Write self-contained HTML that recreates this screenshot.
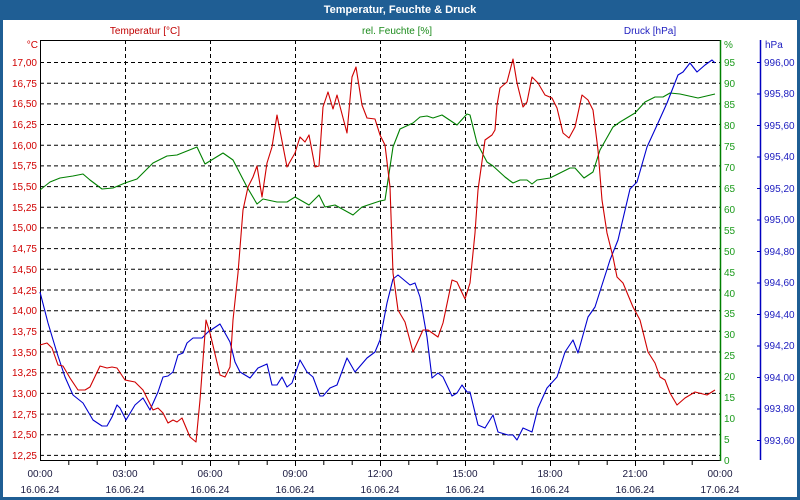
<!DOCTYPE html>
<html><head><meta charset="utf-8"><style>
html,body{margin:0;padding:0;background:#fff;}
svg{display:block;font-family:"Liberation Sans",Tahoma,sans-serif;}
</style></head><body>
<svg width="800" height="500" xmlns="http://www.w3.org/2000/svg">
<rect x="0" y="0" width="800" height="500" fill="#1f5e94"/>
<rect x="3" y="20" width="794" height="477" fill="#fff"/>
<text x="400" y="13" fill="#fff" font-size="11" font-weight="bold" text-anchor="middle">Temperatur, Feuchte &amp; Druck</text>
<g font-size="10" text-anchor="middle">
<text x="145" y="34" fill="#c00000">Temperatur [°C]</text>
<text x="397" y="34" fill="#1a8a1a">rel. Feuchte [%]</text>
<text x="650" y="34" fill="#2020c0">Druck [hPa]</text>
</g>
<g stroke="#000" stroke-dasharray="4,3" stroke-width="1" fill="none">
<path d="M40 62.5H720M40 83.2H720M40 103.9H720M40 124.5H720M40 145.2H720M40 165.9H720M40 186.6H720M40 207.3H720M40 227.9H720M40 248.6H720M40 269.3H720M40 290H720M40 310.7H720M40 331.3H720M40 352H720M40 372.7H720M40 393.4H720M40 414.1H720M40 434.7H720M40 455.4H720"/>
<path d="M125.5 40V460M210.5 40V460M295.5 40V460M380.5 40V460M465.5 40V460M550.5 40V460M635.5 40V460"/>
</g>
<g stroke="#000" stroke-width="1" fill="none">
<path d="M40.5 40V460.5H720M40 40.5H720"/>
<path d="M68.8 460V465M97.2 460V465M125.5 460V466M153.8 460V465M182.2 460V465M210.5 460V466M238.8 460V465M267.2 460V465M295.5 460V466M323.8 460V465M352.2 460V465M380.5 460V466M408.8 460V465M437.2 460V465M465.5 460V466M493.8 460V465M522.2 460V465M550.5 460V466M578.8 460V465M607.2 460V465M635.5 460V466M663.8 460V465M692.2 460V465"/>
</g>
<path d="M720.5 40V461" stroke="#008000" stroke-width="1.5" fill="none"/>
<path d="M760.5 40V460" stroke="#0000c0" stroke-width="1.5" fill="none"/>
<g stroke="#0000c0" fill="none"><path d="M757 62.5h4M757 94h4M757 125.5h4M757 157h4M757 188.5h4M757 220h4M757 251.5h4M757 283h4M757 314.5h4M757 346h4M757 377.5h4M757 409h4M757 440.5h4"/></g>
<g font-size="10" fill="#d00000" text-anchor="end">
<text x="38" y="48">°C</text>
<text x="37" y="66">17,00</text><text x="37" y="87">16,75</text><text x="37" y="107">16,50</text><text x="37" y="128">16,25</text><text x="37" y="149">16,00</text><text x="37" y="169">15,75</text><text x="37" y="190">15,50</text><text x="37" y="211">15,25</text><text x="37" y="231">15,00</text><text x="37" y="252">14,75</text><text x="37" y="273">14,50</text><text x="37" y="294">14,25</text><text x="37" y="314">14,00</text><text x="37" y="335">13,75</text><text x="37" y="356">13,50</text><text x="37" y="376">13,25</text><text x="37" y="397">13,00</text><text x="37" y="418">12,75</text><text x="37" y="438">12,50</text><text x="37" y="459">12,25</text>
</g>
<g font-size="10" fill="#1a9a1a">
<text x="724" y="48">%</text>
<text x="724" y="66">95</text><text x="724" y="87">90</text><text x="724" y="108">85</text><text x="724" y="129">80</text><text x="724" y="150">75</text><text x="724" y="171">70</text><text x="724" y="192">65</text><text x="724" y="213">60</text><text x="724" y="234">55</text><text x="724" y="255">50</text><text x="724" y="276">45</text><text x="724" y="297">40</text><text x="724" y="317">35</text><text x="724" y="338">30</text><text x="724" y="359">25</text><text x="724" y="380">20</text><text x="724" y="401">15</text><text x="724" y="422">10</text><text x="724" y="443">5</text><text x="724" y="464">0</text>
</g>
<g font-size="10" fill="#2020c0">
<text x="765" y="48">hPa</text>
<text x="764" y="66">996,00</text><text x="764" y="97">995,80</text><text x="764" y="129">995,60</text><text x="764" y="160">995,40</text><text x="764" y="192">995,20</text><text x="764" y="223">995,00</text><text x="764" y="255">994,80</text><text x="764" y="286">994,60</text><text x="764" y="318">994,40</text><text x="764" y="349">994,20</text><text x="764" y="381">994,00</text><text x="764" y="412">993,80</text><text x="764" y="444">993,60</text>
</g>
<g font-size="10" fill="#1a1a40" text-anchor="middle">
<text x="40" y="477">00:00</text><text x="40" y="493">16.06.24</text>
<text x="125" y="477">03:00</text><text x="125" y="493">16.06.24</text>
<text x="210" y="477">06:00</text><text x="210" y="493">16.06.24</text>
<text x="295" y="477">09:00</text><text x="295" y="493">16.06.24</text>
<text x="380" y="477">12:00</text><text x="380" y="493">16.06.24</text>
<text x="465" y="477">15:00</text><text x="465" y="493">16.06.24</text>
<text x="550" y="477">18:00</text><text x="550" y="493">16.06.24</text>
<text x="635" y="477">21:00</text><text x="635" y="493">16.06.24</text>
<text x="720" y="477">00:00</text><text x="720" y="493">17.06.24</text>
</g>
<g fill="none" stroke-width="1.1" stroke-linejoin="round">
<polyline stroke="#008000" points="40,190 50,182 60,178 73,176 83,174 90,180 102,189 113,188 125,183 137,179 153,163 167,156 177,155 197,147 205,164 223,153 233,160 247,187 257,204 263,199 277,202 287,202 295,197 309,205 319,195 325,207 335,205 353,215 362,207 380,201 385,200 393,147 400,129 413,123 420,117 427,116 433,118 442,115 457,125 467,114 470,115 477,143 487,162 493,166 505,177 513,183 520,180 527,180 532,184 537,180 550,178 570,168 575,168 584,178 593,172 600,150 613,127 620,122 635,113 645,102 655,97 663,97 670,93 680,94 698,98 715,94"/>
<polyline stroke="#0000d0" points="40,292 48,323 57,353 65,377 73,395 83,403 93,420 102,426 107,426 112,417 117,405 120,408 126,420 135,405 143,398 150,410 158,392 163,377 168,376 173,372 178,355 183,353 187,343 193,338 202,338 208,332 220,324 230,342 235,362 240,372 250,378 258,368 267,364 272,385 277,385 282,377 287,387 292,383 300,360 307,372 313,377 320,396 323,396 330,388 337,385 347,358 355,372 367,358 375,352 380,340 387,303 393,279 398,275 410,285 415,283 420,297 427,337 432,378 438,373 443,377 452,396 457,393 462,385 467,392 470,392 478,425 485,428 493,415 498,432 508,435 513,435 517,440 523,428 532,432 538,408 547,388 557,377 565,352 573,340 578,353 588,317 595,307 602,285 610,260 618,240 630,189 637,182 647,147 658,123 667,103 678,75 683,72 690,63 697,72 705,65 712,60 715,63"/>
<polyline stroke="#d00000" points="40,345 47,343 52,348 58,365 63,366 70,378 78,390 85,390 90,387 100,366 107,368 112,367 117,368 125,380 135,382 143,390 148,400 153,410 158,408 163,413 168,423 173,420 177,422 182,418 190,437 196,442 200,400 203,360 206,320 210,333 220,375 225,377 230,367 233,320 238,273 243,210 248,187 253,177 257,166 262,197 267,163 272,147 277,115 287,167 295,153 300,137 305,142 309,135 315,167 319,166 323,107 328,92 333,109 337,95 347,133 352,77 356,67 362,105 367,118 375,119 380,135 385,145 390,187 393,273 398,310 405,322 413,352 423,330 428,330 438,337 443,323 452,280 457,282 465,299 470,283 475,233 478,190 485,140 492,135 495,130 497,105 500,88 507,82 513,59 517,83 523,107 527,102 532,77 538,83 545,95 552,98 557,108 563,133 569,138 575,127 582,95 588,100 593,110 598,150 602,200 607,233 613,257 617,277 623,283 633,307 640,320 648,352 655,363 660,377 665,380 670,393 677,405 685,398 695,392 707,395 715,390"/>
</g>
</svg>
</body></html>
